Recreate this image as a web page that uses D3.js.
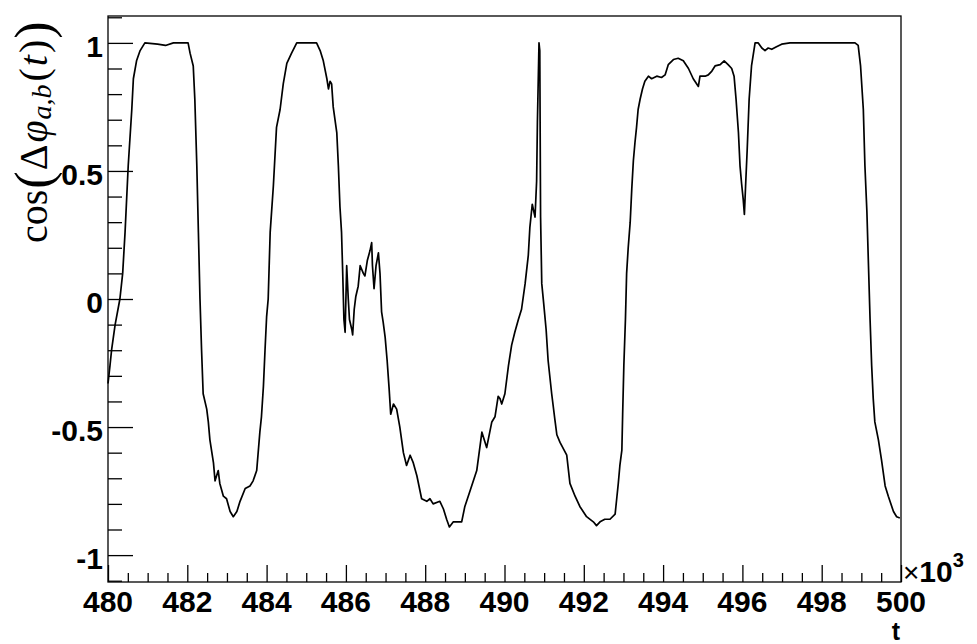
<!DOCTYPE html>
<html>
<head>
<meta charset="utf-8">
<script src="https://cdn.jsdelivr.net/npm/d3@7"></script>
<style>
html,body{margin:0;padding:0;background:#fff;}
svg{display:block;}
</style>
</head>
<body>
<svg id="chart" width="977" height="644"></svg>
<script>
// ---- data ----
const tValues = [
480.00,480.05,480.09,480.18,480.30,480.37,480.43,480.51,480.60,480.64,480.72,480.81,480.93,
481.25,481.45,481.65,482.02,482.07,482.15,482.19,482.24,482.28,482.32,482.36,482.40,482.49,
482.53,482.57,482.66,482.70,482.78,482.82,482.91,482.99,483.08,483.16,483.25,483.33,483.46,
483.58,483.66,483.75,483.83,483.87,483.92,483.96,484.00,484.04,484.09,484.17,484.25,484.34,
484.42,484.51,484.63,484.76,485.26,485.35,485.43,485.52,485.56,485.60,485.64,485.68,485.77,
485.81,485.85,485.89,485.92,485.95,485.98,486.02,486.06,486.09,486.15,486.17,486.21,486.25,
486.31,486.36,486.44,486.48,486.54,486.61,486.65,486.67,486.71,486.76,486.82,486.86,486.90,
486.94,486.99,487.04,487.09,487.13,487.20,487.28,487.36,487.45,487.53,487.62,487.70,487.79,
487.91,488.04,488.12,488.20,488.37,488.46,488.54,488.61,488.71,488.92,489.00,489.13,489.30,
489.43,489.55,489.68,489.76,489.84,489.89,489.93,490.01,490.10,490.18,490.26,490.35,490.43,
490.52,490.60,490.64,490.70,490.77,490.81,490.83,490.87,490.89,490.91,490.94,490.99,491.05,
491.10,491.19,491.27,491.32,491.40,491.57,491.65,491.78,491.90,492.07,492.24,492.32,492.41,
492.53,492.66,492.79,492.83,492.87,492.91,492.96,492.98,493.01,493.05,493.08,493.12,493.17,
493.21,493.25,493.29,493.33,493.37,493.42,493.48,493.54,493.63,493.71,493.84,493.96,494.05,
494.13,494.26,494.38,494.51,494.64,494.76,494.89,494.93,495.06,495.14,495.23,495.31,495.44,
495.54,495.64,495.73,495.79,495.84,495.90,495.94,495.98,496.02,496.05,496.08,496.12,496.17,
496.23,496.32,496.40,496.49,496.57,496.65,496.74,496.86,496.99,497.20,498.84,498.92,498.98,
499.05,499.09,499.14,499.18,499.22,499.26,499.30,499.34,499.43,499.51,499.60,499.68,499.81,
499.89,499.97
];
const cosValues = [
-0.33,-0.26,-0.20,-0.10,0.00,0.10,0.26,0.52,0.74,0.86,0.93,0.97,1.00,
0.995,0.99,1.00,1.00,0.96,0.91,0.78,0.52,0.26,0.00,-0.20,-0.37,-0.43,
-0.48,-0.55,-0.64,-0.71,-0.67,-0.72,-0.77,-0.78,-0.83,-0.85,-0.83,-0.79,-0.74,
-0.73,-0.71,-0.67,-0.52,-0.46,-0.34,-0.20,-0.07,0.00,0.26,0.44,0.67,0.74,
0.84,0.92,0.96,1.00,1.00,0.97,0.93,0.86,0.82,0.85,0.84,0.75,0.65,
0.52,0.36,0.26,0.10,-0.08,-0.13,0.13,0.00,-0.08,-0.12,-0.14,-0.04,0.01,
0.05,0.13,0.10,0.09,0.15,0.19,0.22,0.13,0.04,0.13,0.18,0.10,-0.05,
-0.09,-0.15,-0.24,-0.35,-0.45,-0.41,-0.43,-0.50,-0.60,-0.65,-0.61,-0.64,-0.69,
-0.78,-0.79,-0.78,-0.80,-0.79,-0.82,-0.86,-0.89,-0.87,-0.87,-0.81,-0.75,-0.67,
-0.52,-0.58,-0.48,-0.46,-0.38,-0.39,-0.41,-0.37,-0.26,-0.18,-0.13,-0.08,-0.04,
0.06,0.17,0.28,0.37,0.32,0.46,0.69,1.00,0.97,0.32,0.06,-0.02,-0.12,
-0.24,-0.37,-0.47,-0.53,-0.56,-0.61,-0.72,-0.77,-0.81,-0.85,-0.87,-0.885,-0.87,
-0.86,-0.86,-0.84,-0.78,-0.72,-0.65,-0.59,-0.45,-0.26,-0.08,0.10,0.20,0.30,
0.43,0.54,0.61,0.67,0.74,0.78,0.82,0.85,0.87,0.86,0.87,0.865,0.875,
0.915,0.935,0.94,0.93,0.90,0.86,0.83,0.87,0.87,0.875,0.89,0.91,0.915,
0.93,0.915,0.90,0.87,0.78,0.65,0.52,0.45,0.39,0.33,0.44,0.58,0.78,
0.91,1.00,1.00,0.98,0.97,0.98,0.975,0.985,0.995,1.00,1.00,0.99,0.91,
0.74,0.52,0.34,0.13,-0.08,-0.26,-0.39,-0.48,-0.55,-0.63,-0.73,-0.77,-0.83,
-0.85,-0.855
];
const xTickValues = [480,482,484,486,488,490,492,494,496,498,500];
const xTickLabels = ["480","482","484","486","488","490","492","494","496","498","500"];
const yTickValues = [-1,-0.5,0,0.5,1];
const yTickLabels = ["-1","-0.5","0","0.5","1"];
const xDomain = [480,500];
const yDomain = [-1.105,1.105];

// ---- layout ----
const svg = d3.select("#chart");
const L = 108, R = 901, T = 16, B = 582;
svg.append("rect").attr("width",977).attr("height",644).attr("fill","#fff");

const x = d3.scaleLinear().domain(xDomain).range([L,R]);
const y = d3.scaleLinear().domain(yDomain).range([B,T]);

const tickFont = "'Liberation Sans', Arial, Helvetica, sans-serif";

// y axis
const yMinor = d3.range(-11,12).map(d=>d/10).filter(v=>v>=yDomain[0]&&v<=yDomain[1] && !yTickValues.some(m=>Math.abs(m-v)<1e-9));
const yAxis = d3.axisRight(y).tickValues(yTickValues).tickSize(25).tickFormat("");
const gy = svg.append("g").attr("transform",`translate(${L},0)`).call(yAxis);
gy.select(".domain").remove();
gy.selectAll("line").attr("stroke","#000").attr("stroke-width",1.3);
const yAxisMinor = d3.axisRight(y).tickValues(yMinor).tickSize(14).tickFormat("");
const gym = svg.append("g").attr("transform",`translate(${L},0)`).call(yAxisMinor);
gym.select(".domain").remove();
gym.selectAll("line").attr("stroke","#000").attr("stroke-width",1.3);

svg.append("g").selectAll("text").data(yTickValues).join("text")
  .attr("x",103).attr("y",d=>y(d)+14)
  .attr("text-anchor","end")
  .attr("font-family",tickFont).attr("font-weight","bold").attr("font-size",30)
  .text((d,i)=>yTickLabels[i]);

// x axis
const xMinor = d3.range(480,500.01,0.5).filter(v=>!xTickValues.includes(v));
const xAxis = d3.axisTop(x).tickValues(xTickValues).tickSize(17).tickFormat("");
const gx = svg.append("g").attr("transform",`translate(0,${B})`).call(xAxis);
gx.select(".domain").remove();
gx.selectAll("line").attr("stroke","#000").attr("stroke-width",1.3);
const xAxisMinor = d3.axisTop(x).tickValues(xMinor).tickSize(9).tickFormat("");
const gxm = svg.append("g").attr("transform",`translate(0,${B})`).call(xAxisMinor);
gxm.select(".domain").remove();
gxm.selectAll("line").attr("stroke","#000").attr("stroke-width",1.3);

svg.append("g").selectAll("text").data(xTickValues).join("text")
  .attr("x",d=>x(d)).attr("y",612)
  .attr("text-anchor","middle")
  .attr("font-family",tickFont).attr("font-weight","bold").attr("font-size",30)
  .text((d,i)=>xTickLabels[i]);

// x10^3
const mult = svg.append("text").attr("x",903).attr("y",582)
  .attr("font-family",tickFont).attr("font-size",30);
mult.append("tspan").attr("font-weight","normal").attr("font-size",28).text("×");
mult.append("tspan").attr("font-weight","bold").text("10");
mult.append("tspan").attr("font-weight","bold").attr("font-size",20).attr("dy",-15).text("3");

// x title
svg.append("text").attr("x",900).attr("y",640).attr("text-anchor","end")
  .attr("font-family",tickFont).attr("font-weight","bold").attr("font-size",25).text("t");

// y title
const serif = "'Liberation Serif','Times New Roman','DejaVu Serif',serif";
const yt = svg.append("text")
  .attr("transform","translate(47,243) rotate(-90)")
  .attr("text-anchor","start")
  .attr("font-family",serif).attr("font-size",40);
yt.append("tspan").text("cos");
yt.append("tspan").attr("font-size",52).attr("dy",4).attr("dx",1).text("(");
yt.append("tspan").attr("dy",-4).attr("dx",1).text("Δ");
yt.append("tspan").attr("font-style","italic").attr("dx",2).text("φ");
yt.append("tspan").attr("font-style","italic").attr("font-size",28).attr("dy",4).attr("dx",1).text("a,b");
yt.append("tspan").attr("dy",-4).attr("dx",3).text("(");
yt.append("tspan").attr("font-style","italic").attr("dx",2).text("t");
yt.append("tspan").attr("dx",2).text(")");
yt.append("tspan").attr("font-size",52).attr("dy",4).attr("dx",1).text(")");

// curve
const data = tValues.map((t,i)=>({t, v: cosValues[i]}));
const line = d3.line().x(d=>x(d.t)).y(d=>y(d.v)).curve(d3.curveLinear);
svg.append("path").datum(data).attr("d",line)
  .attr("fill","none").attr("stroke","#000").attr("stroke-width",1.7)
  .attr("stroke-linejoin","round");

// frame
svg.append("rect").attr("x",L).attr("y",T).attr("width",R-L).attr("height",B-T)
  .attr("fill","none").attr("stroke","#000").attr("stroke-width",1.3);
</script>
</body>
</html>
